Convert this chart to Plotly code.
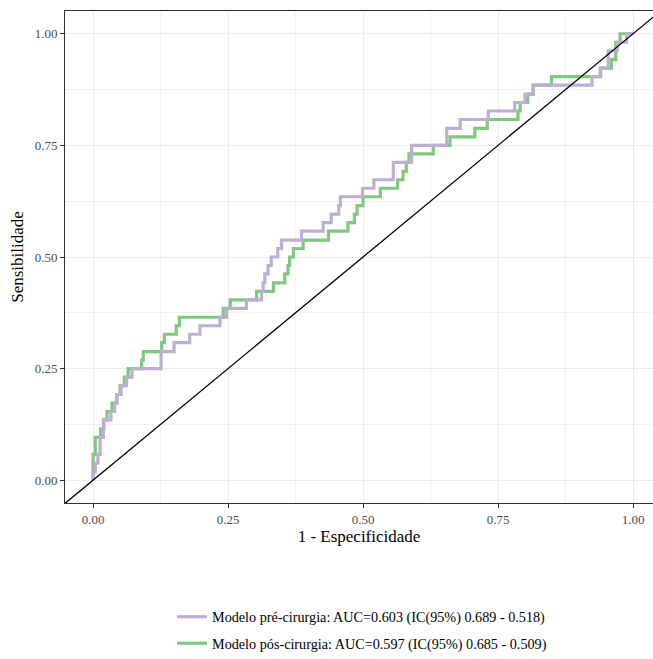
import plotly.graph_objects as go

# ROC step curves: x = start of each plateau (1 - especificidade), y = sensibilidade level
pre_fpr = [0.000, 0.000, 0.004, 0.009, 0.013, 0.019, 0.033, 0.040, 0.044, 0.052, 0.062, 0.072,
           0.126, 0.150, 0.179, 0.198, 0.235, 0.247, 0.284, 0.312, 0.315, 0.318, 0.324, 0.330,
           0.342, 0.349, 0.386, 0.426, 0.441, 0.455, 0.458, 0.499, 0.520, 0.556, 0.590, 0.655,
           0.680, 0.732, 0.781, 0.800, 0.815, 0.924, 0.939, 0.954, 0.971, 0.988, 1.000]
pre_tpr = [0.000, 0.019, 0.038, 0.058, 0.096, 0.135, 0.154, 0.173, 0.192, 0.212, 0.231, 0.250,
           0.288, 0.308, 0.327, 0.346, 0.365, 0.385, 0.404, 0.423, 0.442, 0.462, 0.481, 0.500,
           0.519, 0.538, 0.558, 0.577, 0.596, 0.615, 0.635, 0.654, 0.673, 0.712, 0.750, 0.788,
           0.808, 0.827, 0.846, 0.865, 0.885, 0.904, 0.923, 0.962, 0.981, 1.000, 1.000]

pos_fpr = [0.000, 0.000, 0.004, 0.014, 0.020, 0.026, 0.035, 0.044, 0.050, 0.058, 0.065, 0.090,
           0.093, 0.127, 0.132, 0.154, 0.160, 0.241, 0.254, 0.303, 0.334, 0.355, 0.361, 0.364,
           0.371, 0.389, 0.436, 0.472, 0.484, 0.489, 0.500, 0.532, 0.564, 0.574, 0.580, 0.585,
           0.630, 0.661, 0.707, 0.730, 0.787, 0.791, 0.805, 0.815, 0.849, 0.940, 0.960, 0.968,
           0.976, 1.000]
pos_tpr = [0.000, 0.058, 0.096, 0.115, 0.135, 0.154, 0.173, 0.192, 0.212, 0.231, 0.250, 0.269,
           0.288, 0.308, 0.327, 0.346, 0.365, 0.385, 0.404, 0.423, 0.442, 0.462, 0.481, 0.500,
           0.519, 0.538, 0.558, 0.577, 0.596, 0.615, 0.635, 0.654, 0.673, 0.692, 0.712, 0.731,
           0.750, 0.769, 0.788, 0.808, 0.827, 0.846, 0.865, 0.885, 0.904, 0.923, 0.942, 0.981,
           1.000, 1.000]

diag = [-0.1, 1.1]
ticks = [0.00, 0.25, 0.50, 0.75, 1.00]
tick_labels = ["0.00", "0.25", "0.50", "0.75", "1.00"]

name_pre = "Modelo pré-cirurgia: AUC=0.603 (IC(95%) 0.689 - 0.518)"
name_pos = "Modelo pós-cirurgia: AUC=0.597 (IC(95%) 0.685 - 0.509)"

FONT = "Liberation Serif"

fig = go.Figure()
fig.add_trace(go.Scatter(x=pos_fpr, y=pos_tpr, mode="lines", line=dict(color="#7FC97F", width=3.2, shape="hv"),
                         name=name_pos, legendrank=2, legendgroup="b"))
fig.add_trace(go.Scatter(x=pre_fpr, y=pre_tpr, mode="lines", line=dict(color="#BEAED4", width=3.2, shape="hv"),
                         name=name_pre, legendrank=1, legendgroup="a"))
fig.add_trace(go.Scatter(x=diag, y=diag, mode="lines", line=dict(color="black", width=1.3),
                         showlegend=False, hoverinfo="skip"))

axis_common = dict(
    tickvals=ticks, ticktext=tick_labels, ticks="outside", ticklen=4, tickwidth=1,
    tickcolor="#333333", tickfont=dict(family=FONT, size=13, color="#4D4D4D"),
    showgrid=True, gridcolor="#EBEBEB", gridwidth=1, zeroline=False,
    showline=True, linecolor="#333333", linewidth=1, automargin=False,
    minor=dict(showgrid=True, gridcolor="#F2F2F2", gridwidth=1, tickvals=[0.125, 0.375, 0.625, 0.875]),
)

fig.update_layout(
    width=653, height=659,
    margin=dict(l=65, r=0, t=11, b=150),
    paper_bgcolor="white", plot_bgcolor="white",
    font=dict(family=FONT, color="black"),
    xaxis=dict(range=[-0.052, 1.037], mirror=True,
               title=dict(text="1 - Especificidade", font=dict(family=FONT, size=17, color="black"), standoff=4),
               **axis_common),
    yaxis=dict(range=[-0.051, 1.051], mirror=False,
               title=dict(text="Sensibilidade", font=dict(family=FONT, size=17, color="black"), standoff=6),
               **axis_common),
    legend=dict(x=0.182, y=-0.2, xanchor="left", yanchor="top", orientation="v",
                font=dict(family=FONT, size=14.2, color="black"), itemwidth=30,
                tracegroupgap=5, traceorder="grouped", bgcolor="rgba(0,0,0,0)"),
    showlegend=True,
)

fig.write_html("out.html", config={"displayModeBar": False},
               post_script="document.body.style.margin='0';document.body.style.overflow='hidden';")
